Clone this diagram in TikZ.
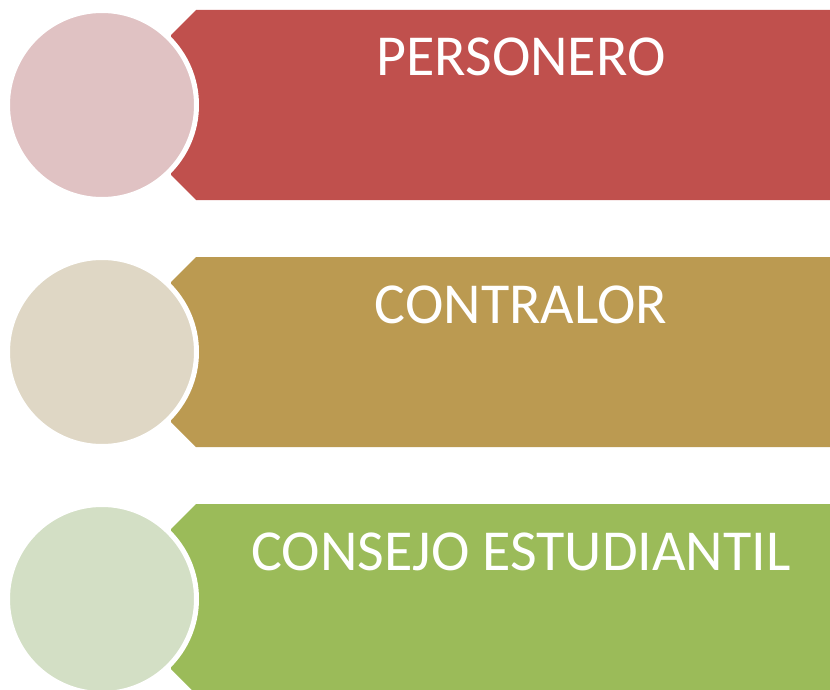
\documentclass[tikz,border=0pt]{standalone}
\usepackage{fontspec}
\setmainfont{Carlito}
\usetikzlibrary{positioning}

\definecolor{redbar}{HTML}{C0504D}
\definecolor{reddisc}{HTML}{E0C2C3}
\definecolor{tanbar}{HTML}{BB9A51}
\definecolor{tandisc}{HTML}{DFD7C5}
\definecolor{greenbar}{HTML}{9BBB59}
\definecolor{greendisc}{HTML}{D3DFC5}

\begin{document}
\begin{tikzpicture}[x=1pt, y=-1pt,
  every node/.style={align=center},
  disc/.style={circle, draw=white, line width=5pt, minimum size=189pt, inner sep=0pt},
  bartext/.style={text=white, anchor=base, font=\fontsize{58}{62}\selectfont}
]
\clip (0,0) rectangle (830,690);

% Spacing
\def\ystep{247}  % distance between rows
\def\barh{190}   % banner height

% Banners, left end cut to a point
\fill[redbar] (196,10) -- (830,10) -- (830,10+\barh) -- (196,10+\barh)
  -- (171,10+\barh-25) -- (171,35) -- cycle;
\fill[tanbar] (196,10+\ystep) -- (830,10+\ystep) -- (830,10+\ystep+\barh)
  -- (196,10+\ystep+\barh) -- (171,10+\ystep+\barh-25) -- (171,35+\ystep) -- cycle;
\fill[greenbar] (196,10+2*\ystep) -- (830,10+2*\ystep) -- (830,10+2*\ystep+\barh)
  -- (196,10+2*\ystep+\barh) -- (171,10+2*\ystep+\barh-25) -- (171,35+2*\ystep) -- cycle;

% Discs on the left
\node (personerodisc) [disc, fill=reddisc] at (102, 105) {};
\node (contralordisc) [disc, fill=tandisc] at (102, 105+\ystep) {};
\node (consejodisc) [disc, fill=greendisc] at (102, 105+2*\ystep) {};

% Labels
\node (personero) [bartext] at (521, 76) {PERSONERO};
\node (contralor) [bartext] at (521, 76+\ystep) {CONTRALOR};
\node (consejo) [bartext] at (521, 76+2*\ystep) {CONSEJO ESTUDIANTIL};

\end{tikzpicture}
\end{document}
